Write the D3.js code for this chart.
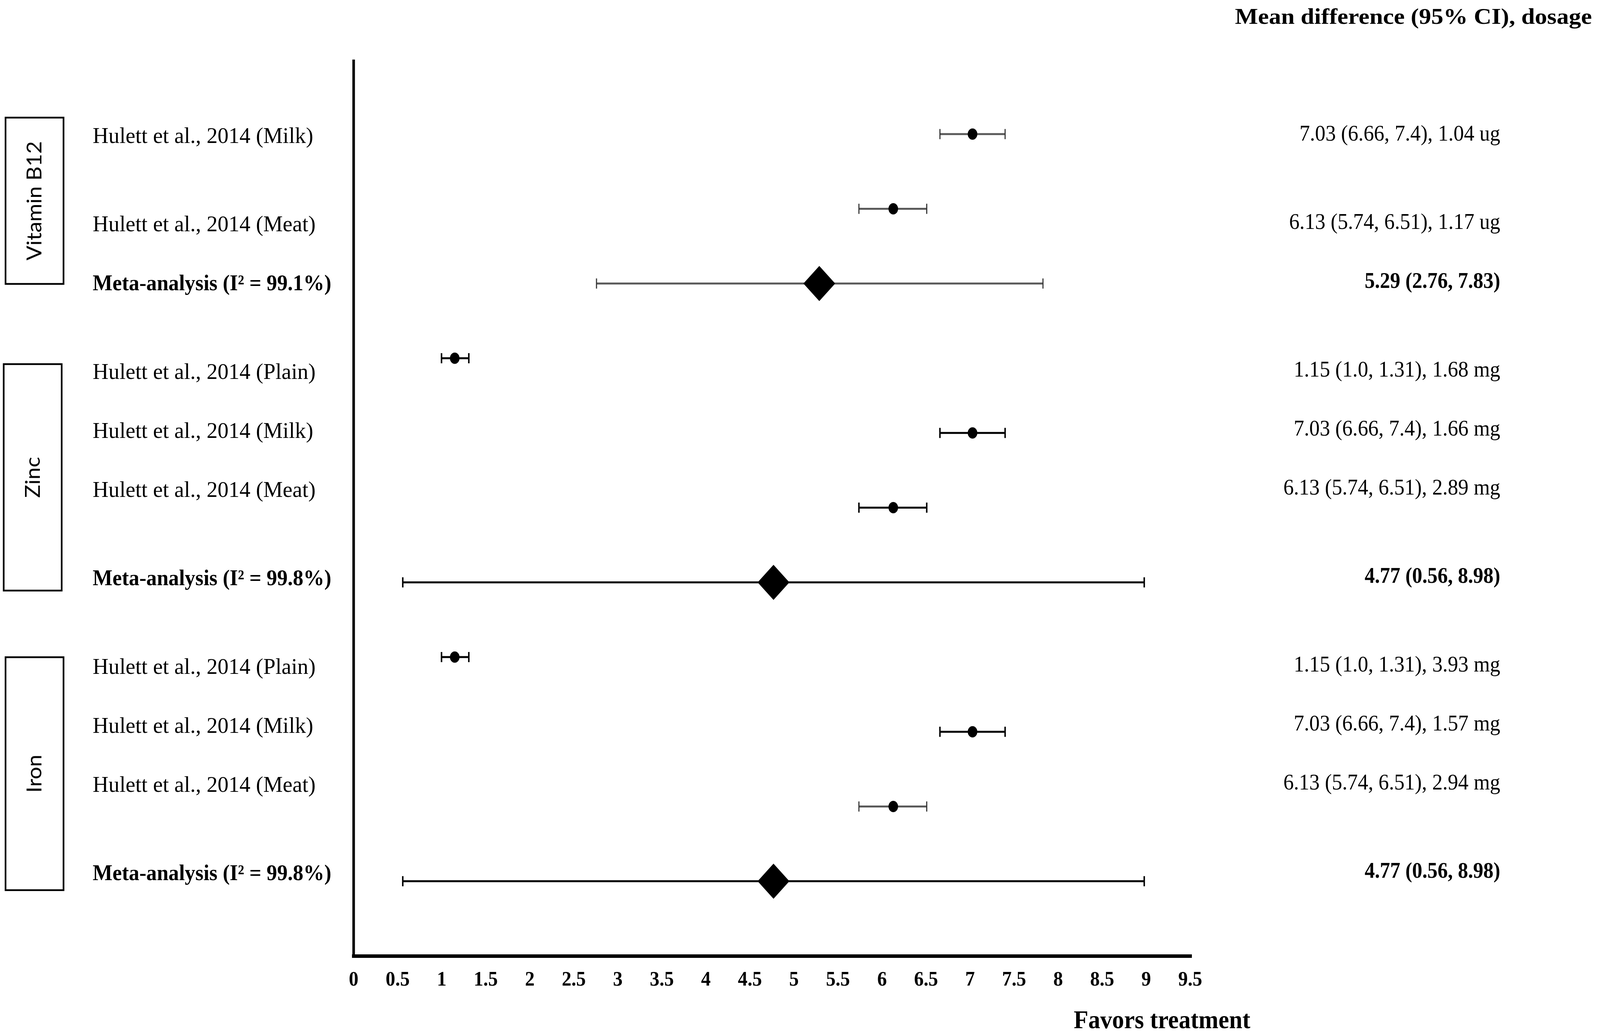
<!DOCTYPE html>
<html>
<head>
<meta charset="utf-8">
<script src="https://cdn.jsdelivr.net/npm/d3@7"></script>
<style>
html,body{margin:0;padding:0;background:#fff;overflow:hidden;}
svg{display:block;}
</style>
</head>
<body>
<svg id="chart"></svg>
<script>
// ---------------- DATA ----------------
const groups = ["Vitamin B12", "Zinc", "Iron"];
const rowGroup = ["Vitamin B12","Vitamin B12","Vitamin B12","Zinc","Zinc","Zinc","Zinc","Iron","Iron","Iron","Iron"];
const studyLabels = [
  "Hulett et al., 2014 (Milk)", "Hulett et al., 2014 (Meat)", "Meta-analysis (I\u00B2 = 99.1%)",
  "Hulett et al., 2014 (Plain)", "Hulett et al., 2014 (Milk)", "Hulett et al., 2014 (Meat)", "Meta-analysis (I\u00B2 = 99.8%)",
  "Hulett et al., 2014 (Plain)", "Hulett et al., 2014 (Milk)", "Hulett et al., 2014 (Meat)", "Meta-analysis (I\u00B2 = 99.8%)"
];
const isMeta = [false,false,true,false,false,false,true,false,false,false,true];
const means = [7.03, 6.13, 5.29, 1.15, 7.03, 6.13, 4.77, 1.15, 7.03, 6.13, 4.77];
const lower = [6.66, 5.74, 2.76, 1.0, 6.66, 5.74, 0.56, 1.0, 6.66, 5.74, 0.56];
const upper = [7.4, 6.51, 7.83, 1.31, 7.4, 6.51, 8.98, 1.31, 7.4, 6.51, 8.98];
const valueLabels = [
  "7.03 (6.66, 7.4)", "6.13 (5.74, 6.51)", "5.29 (2.76, 7.83)",
  "1.15 (1.0, 1.31)", "7.03 (6.66, 7.4)", "6.13 (5.74, 6.51)", "4.77 (0.56, 8.98)",
  "1.15 (1.0, 1.31)", "7.03 (6.66, 7.4)", "6.13 (5.74, 6.51)", "4.77 (0.56, 8.98)"
];
const dosages = ["1.04 ug","1.17 ug","","1.68 mg","1.66 mg","2.89 mg","","3.93 mg","1.57 mg","2.94 mg",""];
const xTicks = [0,0.5,1,1.5,2,2.5,3,3.5,4,4.5,5,5.5,6,6.5,7,7.5,8,8.5,9,9.5];
const tickLabels = ["0","0.5","1","1.5","2","2.5","3","3.5","4","4.5","5","5.5","6","6.5","7","7.5","8","8.5","9","9.5"];
const headerText = "Mean difference (95% CI), dosage";
const xAxisTitle = "Favors treatment";

// ---------------- LAYOUT / STYLE ----------------
const lineTone = ["grey","grey","grey","black","black","black","black","black","black","grey","black"];
const labelSlot = [0,3,5,8,10,12,15,18,20,22,25];
const groupSpan = {"Vitamin B12":[-0.86,4.78,15], "Zinc":[7.5,15.18,10], "Iron":[17.44,25.34,15]};

const W = 4332, H = 2652;
const vw = window.innerWidth || W, vh = window.innerHeight || H;
const svg = d3.select("#chart")
  .attr("width", vw).attr("height", vh)
  .attr("viewBox", `0 0 ${W} ${H}`)
  .attr("preserveAspectRatio", "none");
const serif = "'Liberation Serif','Times New Roman',serif";

const x = d3.scaleLinear().domain([0, 9.5]).range([957, 3222]);
const row = d3.scalePoint().domain(d3.range(means.length)).range([152, 2447]).padding(1);
const slot = d3.scaleLinear().domain([0, 25]).range([366, 2253]);

// axes
const xAxisG = svg.append("g").attr("transform", "translate(0,2447)")
  .call(d3.axisBottom(x).tickValues(xTicks).tickFormat((d,i)=>tickLabels[i]).tickSize(0).tickSizeOuter(0));
xAxisG.select(".domain").attr("stroke","#000").attr("stroke-width",9).attr("stroke-linecap","square");
xAxisG.selectAll(".tick text").attr("y",76).attr("dy",0)
  .style("font-family",serif).style("font-weight","bold").style("font-size","52px").attr("fill","#000");

const yAxisG = svg.append("g").attr("transform","translate(957,0)")
  .call(d3.axisLeft(row).tickValues([]).tickSizeOuter(0));
yAxisG.select(".domain").attr("stroke","#000").attr("stroke-width",7);

// text helper
function addText(parent, tx, ty, str, o) {
  const g = parent.append("g").attr("transform", `translate(${tx},${ty}) scale(${o.sx||1},1)`);
  return g.append("text")
    .attr("text-anchor", o.anchor || "start")
    .style("font-family", o.family || serif)
    .style("font-size", (o.size||58) + "px")
    .style("font-weight", o.bold ? "bold" : "normal")
    .attr("fill", "#000")
    .text(str);
}

// header
addText(svg, 4310, 61, headerText, {anchor:"end", bold:true, size:58, sx:1.14});
// x title
addText(svg, 2907, 2632, xAxisTitle, {bold:true, size:66, sx:0.98});

// group boxes
const boxG = svg.append("g");
groups.forEach(gname => {
  const sp = groupSpan[gname];
  const y0 = slot(sp[0]), y1 = slot(sp[1]);
  boxG.append("rect").attr("x", sp[2]).attr("y", y0).attr("width", 157).attr("height", y1 - y0)
    .attr("fill","none").attr("stroke","#000").attr("stroke-width",4.5);
  const cx = sp[2] + 157/2, cy = (y0 + y1)/2;
  boxG.append("text")
    .attr("transform", `translate(${cx + 19},${cy}) rotate(-90)`)
    .attr("text-anchor","middle")
    .style("font-family","Lato, 'Open Sans', sans-serif")
    .style("font-size","56px")
    .attr("fill","#000")
    .text(gname);
});

// labels and values
const textG = svg.append("g");
studyLabels.forEach((lab, i) => {
  const yb = slot(labelSlot[i]);
  addText(textG, 251, yb, lab, {bold: isMeta[i], size:58, sx: isMeta[i] ? 0.98 : 1.024});
  const v = valueLabels[i] + (dosages[i] ? ", " + dosages[i] : "");
  addText(textG, 4062, yb - 6, v, {anchor:"end", bold: isMeta[i], size:58, sx: isMeta[i] ? 0.95 : 0.97});
});

// error bars and markers
const markG = svg.append("g");
const capH = 13;
means.forEach((m, i) => {
  const yy = row(i);
  const grey = lineTone[i] === "grey";
  const lineColor = grey ? "#5a5a5a" : "#000";
  const capColor = grey ? "#333" : "#000";
  markG.append("line").attr("x1", x(lower[i])).attr("x2", x(upper[i])).attr("y1", yy).attr("y2", yy)
    .attr("stroke", lineColor).attr("stroke-width", 5);
  [lower[i], upper[i]].forEach(v => {
    markG.append("line").attr("x1", x(v)).attr("x2", x(v)).attr("y1", yy - capH).attr("y2", yy + capH)
      .attr("stroke", capColor).attr("stroke-width", grey ? 3 : 4);
  });
  if (isMeta[i]) {
    const p = d3.path();
    p.moveTo(x(m) - 43, yy); p.lineTo(x(m), yy - 45); p.lineTo(x(m) + 43, yy); p.lineTo(x(m), yy + 45); p.closePath();
    markG.append("path").attr("d", p.toString()).attr("fill","#000");
  } else {
    markG.append("ellipse").attr("cx", x(m)).attr("cy", yy).attr("rx", 13).attr("ry", 14.5).attr("fill","#000");
  }
});
</script>
</body>
</html>
